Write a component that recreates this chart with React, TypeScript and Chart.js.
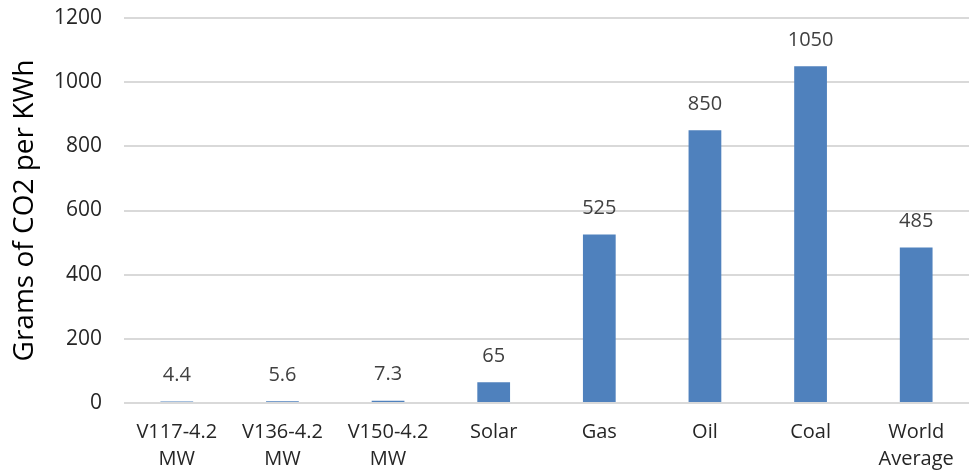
import React, { useEffect, useRef } from "react";
import { Chart, registerables } from "chart.js";

Chart.register(...registerables);

const categories: string[][] = [
  ["V117-4.2", "MW"],
  ["V136-4.2", "MW"],
  ["V150-4.2", "MW"],
  ["Solar"],
  ["Gas"],
  ["Oil"],
  ["Coal"],
  ["World", "Average"],
];
const co2Values: number[] = [4.4, 5.6, 7.3, 65, 525, 850, 1050, 485];
const valueLabels: string[] = ["4.4", "5.6", "7.3", "65", "525", "850", "1050", "485"];
const yAxisTitle = "Grams of CO2 per KWh";

const dataLabelPlugin = {
  id: "dataLabels",
  afterDatasetsDraw(chart: any) {
    const { ctx } = chart;
    const meta = chart.getDatasetMeta(0);
    ctx.save();
    ctx.font = "20px 'Open Sans'";
    ctx.fillStyle = "#404040";
    ctx.textAlign = "center";
    ctx.textBaseline = "middle";
    meta.data.forEach((bar: any, i: number) => {
      ctx.fillText(valueLabels[i], bar.x, bar.y - 26);
    });
    ctx.restore();
  },
};

export default function App() {
  const ref = useRef<HTMLCanvasElement>(null);
  useEffect(() => {
    document.body.style.margin = "0";
    const chart = new Chart(ref.current!, {
      type: "bar",
      data: {
        labels: categories,
        datasets: [
          {
            data: co2Values,
            backgroundColor: "#4F81BD",
            borderWidth: 0,
            categoryPercentage: 1,
            barPercentage: 0.31,
          },
        ],
      },
      options: {
        animation: false,
        responsive: false,
        maintainAspectRatio: false,
        layout: { padding: { top: 18, right: 0, bottom: 0, left: 0 } },
        plugins: { legend: { display: false }, tooltip: { enabled: false } },
        scales: {
          x: {
            grid: { display: false, drawTicks: false },
            border: { display: false },
            ticks: {
              color: "#262626",
              font: { family: "Open Sans", size: 20, lineHeight: 1.35 },
              padding: 16,
              maxRotation: 0,
              autoSkip: false,
            },
            afterFit(scale: any) {
              scale.height = 70;
              scale.paddingLeft = 0;
              scale.paddingRight = 0;
            },
          },
          y: {
            min: 0,
            max: 1200,
            ticks: {
              stepSize: 200,
              color: "#262626",
              font: { family: "Open Sans", size: 21 },
              padding: 22,
              callback: (v: any) => String(v),
            },
            grid: { color: "#D9D9D9", lineWidth: 2, drawTicks: false },
            border: { display: false },
            title: {
              display: true,
              text: yAxisTitle,
              color: "#000000",
              font: { family: "Open Sans", size: 28 },
              padding: { top: 8, bottom: 0 },
            },
            afterFit(scale: any) {
              scale.width = 124;
              scale.paddingTop = 0;
              scale.paddingBottom = 0;
            },
          },
        },
      },
      plugins: [dataLabelPlugin],
    });
    return () => chart.destroy();
  }, []);
  return (
    <div style={{ width: 969, height: 473 }}>
      <canvas ref={ref} width={969} height={473} style={{ display: "block" }} />
    </div>
  );
}
